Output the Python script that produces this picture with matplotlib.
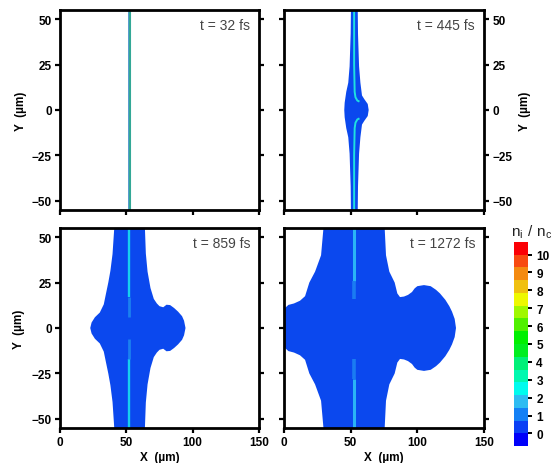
import matplotlib
matplotlib.use('Agg')
import matplotlib.pyplot as plt
from matplotlib.colors import ListedColormap, BoundaryNorm
from matplotlib.cm import ScalarMappable

plt.rcParams['font.family'] = ['Liberation Sans', 'DejaVu Sans']
plt.rcParams['mathtext.fontset'] = 'custom'
plt.rcParams['mathtext.rm'] = 'Liberation Sans'
plt.rcParams['mathtext.default'] = 'regular'

W, H = 557, 464
times = ['t = 32 fs', 't = 445 fs', 't = 859 fs', 't = 1272 fs']
x_ticks = [0, 50, 100, 150]
y_ticks = [-50, -25, 0, 25, 50]
y_tick_labels = ['\u221250', '\u221225', '0', '25', '50']
cbar_ticks = [0, 1, 2, 3, 4, 5, 6, 7, 8, 9, 10]
cbar_edges = [-0.7, -0.0, 0.7, 1.4, 2.15, 2.85, 3.55, 4.3, 5.0, 5.7, 6.45, 7.15, 7.85, 8.55, 9.3, 10.0, 10.7]
cbar_colors = ['#0000fa', '#0a40f5', '#1480f5', '#2ebcf2', '#00fbee', '#00f8b0', '#00f078', '#00ee20',
               '#00f000', '#50f000', '#a0f800', '#eef800', '#f0c010', '#f48a10', '#f84a10', '#fb0005']

body_color = '#0b48ee'

# blue plasma outline per panel (x in um, y in um)
p1_x = [51.2, 53.3, 53.3, 51.2]
p1_y = [55, 55, -55, -55]

p2_x = [55.3, 55.5, 56.3, 57.3, 58.5, 60.2, 62.8, 63.5, 62.8, 60.2, 58.5, 57.3, 56.3, 55.5, 55.3,
        50.2, 50.0, 49.2, 48.2, 46.7, 45.5, 45.2, 45.5, 46.7, 48.2, 49.2, 50.0, 50.2]
p2_y = [55, 42, 24, 15, 8, 6, 3.3, 0, -3.3, -6, -8, -15, -24, -42, -55,
        -55, -42, -24, -15, -10, -4, 0, 4, 10, 15, 24, 42, 55]

p3_x = [64, 64.7, 66, 68.2, 70.7, 73, 75, 77.8, 80.3, 83, 86, 89, 92, 93.5, 94.6,
        93.5, 92, 89, 86, 83, 80.3, 77.8, 75, 73, 70.7, 68.2, 66, 64.7, 64,
        40.9, 39.6, 38, 36.4, 34.6, 33, 30, 26.3, 23.8, 22.8, 23.8, 26.3, 30, 33, 34.6, 36.4, 38, 39.6, 40.9]
p3_y = [55, 41, 31, 22, 16, 13.5, 12, 11.4, 12.8, 12.6, 11, 9, 6.5, 4, 0,
        -4, -6.5, -9, -11, -12.6, -12.8, -11.4, -12, -13.5, -16, -22, -31, -41, -55,
        -55, -40.7, -31.5, -25, -18.7, -13, -8.5, -5.9, -3, 0, 3, 5.9, 8.5, 13, 18.7, 25, 31.5, 40.7, 55]

p4_x = [75.5, 76.5, 79, 83, 85, 87, 90, 93, 96, 98, 100, 105, 110, 114, 117, 121, 124, 126, 128, 129,
        128, 126, 124, 121, 117, 114, 110, 105, 100, 98, 96, 93, 90, 87, 85, 83, 79, 76.5, 75.5,
        29.6, 27.8, 23.3, 19, 15.8, 12, 7.5, 3.3, 0.8, 0, 0, 0, 0.8, 3.3, 7.5, 12, 15.8, 19, 23.3, 27.8, 29.6]
p4_y = [55, 40, 31, 25, 19, 17, 17.3, 18.2, 19.8, 21.8, 23, 23.6, 23, 21, 19, 15.5, 12, 9, 5, 0,
        -5, -9, -12, -15.5, -19, -21, -23, -23.6, -23, -21.8, -19.8, -18.2, -17.3, -17, -19, -25, -31, -40, -55,
        -55, -40, -31, -25, -17.5, -15, -13.5, -12.7, -11, -5, 0, 5, 11, 12.7, 13.5, 15, 17.5, 25, 31, 40, 55]

outlines_x = [p1_x, p2_x, p3_x, p4_x]
outlines_y = [p1_y, p2_y, p3_y, p4_y]

# stripes: (x list, y list, width in pt, colour)
p1_stripes = [([52.6, 52.6], [55, -55], 1.5, '#33a896')]
p2_stripes = [([52.6, 52.6, 53.0, 53.6, 55.0, 56.6], [55, 25, 10, 7, 5.2, 4.6], 1.4, '#1ee0e0'),
              ([52.6, 52.6, 53.0, 53.6, 55.0, 56.6], [-55, -25, -10, -7, -5.2, -4.6], 1.4, '#1ee0e0')]
p3_stripes = [([52.3, 52.3], [55, 17], 1.7, '#16d0f0'), ([52.3, 52.3], [17, 6], 2.0, '#1a80f0'),
              ([52.3, 52.3], [-55, -17], 1.7, '#16d0f0'), ([52.3, 52.3], [-17, -6], 2.0, '#1a80f0')]
p4_stripes = [([52.2, 52.2], [55, 26], 2.2, '#2ab4f6'), ([52.2, 52.2], [26, 16], 2.6, '#1a7cf2'),
              ([52.2, 52.2], [-55, -28], 2.2, '#2ab4f6'), ([52.2, 52.2], [-28, -17], 2.6, '#1a7cf2')]
stripes = [p1_stripes, p2_stripes, p3_stripes, p4_stripes]

boxes = [(60, 11, 259, 211), (284, 11, 484, 211), (60, 229, 259, 429), (284, 229, 484, 429)]

fig = plt.figure(figsize=(W / 100, H / 100), dpi=100)
tick_font = dict(fontsize=8.5, fontweight='bold')

def make_axes(x0, y0, x1, y1):
    return fig.add_axes([x0 / W, 1 - y1 / H, (x1 - x0) / W, (y1 - y0) / H])

for i, box in enumerate(boxes):
    ax = make_axes(*box)
    ax.fill(outlines_x[i], outlines_y[i], color=body_color if i else '#5a9cd0', lw=0)
    for sx, sy, lw, col in stripes[i]:
        ax.plot(sx, sy, color=col, lw=lw, solid_capstyle='butt')
    ax.set_xlim(0, 150)
    ax.set_ylim(-55, 55)
    ax.set_xticks(x_ticks)
    ax.set_yticks(y_ticks)
    ax.set_yticklabels(y_tick_labels, **tick_font)
    ax.set_xticklabels([str(v) for v in x_ticks], **tick_font)
    for s in ax.spines.values():
        s.set_linewidth(2.0)
    ax.tick_params(axis='both', direction='out', length=3.5, width=1.6, pad=2.5, color='black')
    ax.tick_params(axis='y', left=True, right=True, labelleft=(i in (0, 2)), labelright=(i == 1))
    ax.tick_params(axis='x', labelbottom=(i >= 2))
    ax.text(0.955, 0.925, times[i], transform=ax.transAxes, ha='right', va='center',
            fontsize=10, color='#444444')

label_font = dict(fontsize=8.5, fontweight='bold', ha='center', va='center')
fig.text(21 / W, 1 - 111 / H, 'Y  (\u00b5m)', rotation=90, **label_font)
fig.text(19 / W, 1 - 329 / H, 'Y  (\u00b5m)', rotation=90, **label_font)
fig.text(525 / W, 1 - 111 / H, 'Y  (\u00b5m)', rotation=90, **label_font)
fig.text(160 / W, 1 - 458 / H, 'X  (\u00b5m)', **label_font)
fig.text(384 / W, 1 - 458 / H, 'X  (\u00b5m)', **label_font)

cax = make_axes(514, 243, 528, 447)
cmap = ListedColormap(cbar_colors)
norm = BoundaryNorm(cbar_edges, cmap.N)
cb = fig.colorbar(ScalarMappable(norm=norm, cmap=cmap), cax=cax, ticks=cbar_ticks,
                  spacing='proportional', drawedges=False)
cb.outline.set_visible(False)
cb.ax.minorticks_off()
cb.ax.set_yticks(cbar_ticks)
cb.ax.set_yticklabels([str(v) for v in cbar_ticks], **tick_font)
cb.ax.tick_params(length=3, width=1.4, pad=3, color='black')
fig.text(532 / W, 1 - 232 / H, r'$n_i\ /\ n_c$', fontsize=11, ha='center', va='center', color='#222222')

fig.savefig('out.png', dpi=100)
